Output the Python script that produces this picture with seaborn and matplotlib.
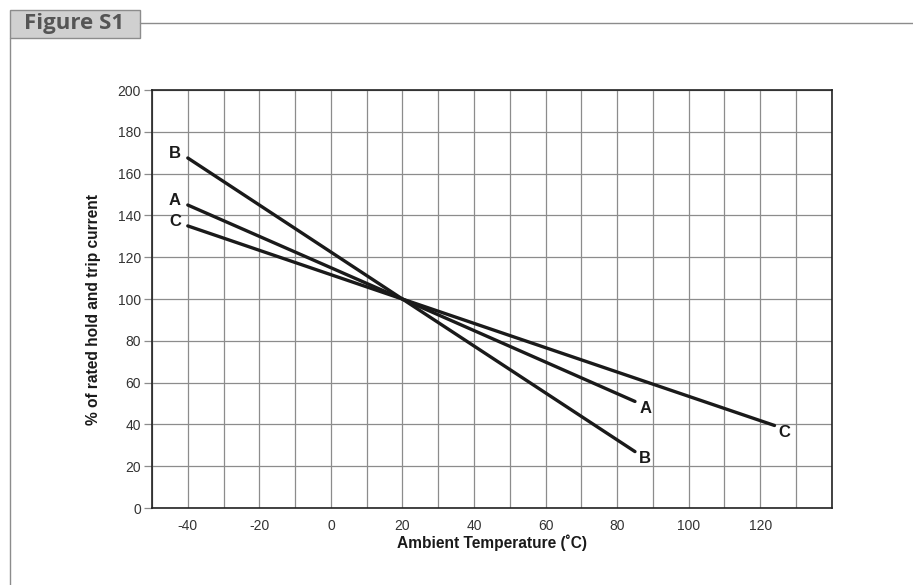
import pandas as pd
import seaborn as sns
import matplotlib.pyplot as plt
from matplotlib.patches import Rectangle
from matplotlib.lines import Line2D

# Data
curves = ["A", "B", "C"]
temp_a = [-40, 20, 85]
pct_a = [145, 100, 51]
temp_b = [-40, 20, 85]
pct_b = [167.5, 100, 27]
temp_c = [-40, 20, 124]
pct_c = [135, 100, 39.5]

x_ticks = [-40, -20, 0, 20, 40, 60, 80, 100, 120]
y_ticks = [0, 20, 40, 60, 80, 100, 120, 140, 160, 180, 200]

df = pd.concat([
    pd.DataFrame({"temp": temp_a, "pct": pct_a, "curve": "A"}),
    pd.DataFrame({"temp": temp_b, "pct": pct_b, "curve": "B"}),
    pd.DataFrame({"temp": temp_c, "pct": pct_c, "curve": "C"}),
])

sns.set_theme(style="white")
plt.rcParams["font.family"] = ["Liberation Sans", "DejaVu Sans"]
plt.rcParams["axes.unicode_minus"] = False

fig = plt.figure(figsize=(9.13, 5.85), dpi=100)
ax = fig.add_axes([0.1665, 0.1316, 0.7445, 0.7144])

sns.lineplot(data=df, x="temp", y="pct", units="curve", estimator=None,
             color="#1a1a1a", linewidth=2.4, legend=False, ax=ax, zorder=3)

ax.set_xlim(-50, 140)
ax.set_ylim(0, 200)
ax.set_xticks(x_ticks)
ax.set_xticks(range(-50, 141, 10), minor=True)
ax.set_yticks(y_ticks)
ax.grid(which="both", axis="x", color="#8c8c8c", linewidth=0.9)
ax.grid(which="major", axis="y", color="#8c8c8c", linewidth=0.9)
ax.tick_params(axis="x", which="both", length=0, labelsize=10, colors="#333333", pad=8)
ax.tick_params(axis="y", length=6, width=0.9, color="#8c8c8c", labelsize=10,
               labelcolor="#333333", pad=2, left=True)
for s in ax.spines.values():
    s.set_color("#222222")
    s.set_linewidth(1.2)

ax.set_xlabel("Ambient Temperature (˚C)", fontsize=11.2, fontweight="bold", color="#1a1a1a")
ax.set_ylabel("% of rated hold and trip current", fontsize=11.2, fontweight="bold", color="#1a1a1a")
ax.xaxis.set_label_coords(0.5, -0.064)
ax.yaxis.set_label_coords(-0.075, 0.474)

# curve labels
starts = {"A": (temp_a[0], pct_a[0]), "B": (temp_b[0], pct_b[0]), "C": (temp_c[0], pct_c[0])}
ends = {"A": (temp_a[-1], pct_a[-1]), "B": (temp_b[-1], pct_b[-1]), "C": (temp_c[-1], pct_c[-1])}
for c in curves:
    x0, y0 = starts[c]
    ax.annotate(c, (x0, y0), xytext=(-5, 3), textcoords="offset points",
                ha="right", va="center", fontsize=12, fontweight="bold", color="#1a1a1a")
    x1, y1 = ends[c]
    ax.annotate(c, (x1, y1), xytext=(3, -5), textcoords="offset points",
                ha="left", va="center", fontsize=12, fontweight="bold", color="#1a1a1a")

# header tab and frame lines
fig.add_artist(Rectangle((10 / 913, 1 - 38 / 585), 130 / 913, 28 / 585,
                         transform=fig.transFigure, facecolor="#d0d0d0",
                         edgecolor="#8c8c8c", linewidth=1.0))
fig.text(74 / 913, 1 - 24 / 585, "Figure S1", ha="center", va="center",
         fontsize=16, fontweight="bold", color="#555555", family=["Open Sans", "DejaVu Sans"])
fig.add_artist(Line2D([140 / 913, 1], [1 - 23 / 585, 1 - 23 / 585],
                      transform=fig.transFigure, color="#8c8c8c", linewidth=1.0))
fig.add_artist(Line2D([10 / 913, 10 / 913], [0, 1 - 38 / 585],
                      transform=fig.transFigure, color="#8c8c8c", linewidth=1.0))

fig.savefig("out.png", dpi=100)
